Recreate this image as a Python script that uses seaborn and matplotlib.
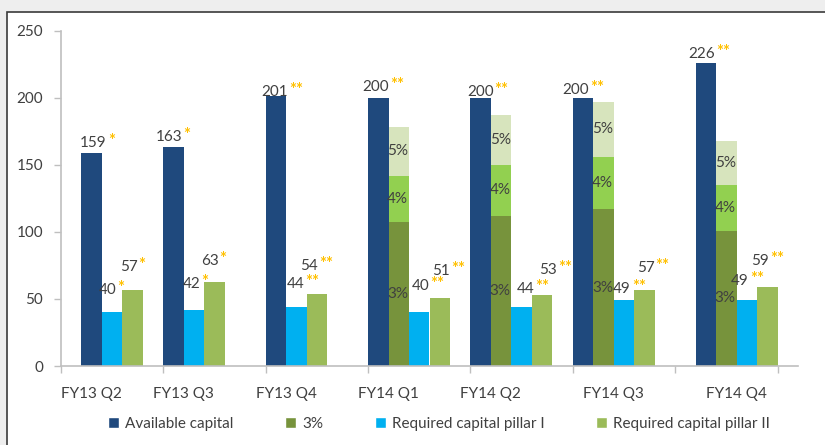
import numpy as np
import pandas as pd
import matplotlib.pyplot as plt
import seaborn as sns
from matplotlib.patches import Rectangle, Patch

# ── Data ─────────────────────────────────────────────────────────────────────
QUARTERS = ["FY13 Q2", "FY13 Q3", "FY13 Q4", "FY14 Q1", "FY14 Q2", "FY14 Q3", "FY14 Q4"]
AVAILABLE = [159, 163, 201, 200, 200, 200, 226]
PILLAR_I = [40, 42, 44, 40, 44, 49, 49]
PILLAR_II = [57, 63, 54, 51, 53, 57, 59]
STARS = ["*", "*", "**", "**", "**", "**", "**"]

STACK_QUARTERS = ["FY14 Q1", "FY14 Q2", "FY14 Q3", "FY14 Q4"]
BUF_3 = [107, 112, 117, 101]
BUF_4 = [35, 38, 39, 34]
BUF_5 = [36, 37, 41, 33]
BUF_LABELS = ["3%", "4%", "5%"]

YTICKS = [0, 50, 100, 150, 200, 250]

# ── Layout (slot units, 5 slots per quarter) ─────────────────────────────────
N_SLOTS = 36
START = [1, 0, 0, 0, 0, 0, 1]
LABEL_POS = [1.0, 5.5, 10.5, 15.5, 20.5, 26.5, 32.5]

# label offsets in pixels: (right edge of number from bar centre, centre above bar top)
AV_DX = [15, 9, 12, 11, 13, 6, 9]
AV_DY = [10, 10, 4, 11, 6, 8, 9]
P1_DX = [4, 6, 8, 10, 13, 7, 2]
P1_DY = [22, 26, 23, 26, 18, 11, 19]
P2_DX = [5, 4, 1, 10, 15, 10, 2]
P2_DY = [23, 21, 28, 27, 25, 22, 26]

C_AVAIL = "#1F497D"
C_3 = "#77933C"
C_4 = "#92D050"
C_5 = "#D7E4BD"
C_P1 = "#00B0F0"
C_P2 = "#9BBB59"
C_STAR = "#FFC000"
C_TEXT = "#404040"
C_AXIS = "#BFBFBF"

sns.set_theme(style="white")
plt.rcParams["font.family"] = ["Lato", "DejaVu Sans"]
FS = 11


def slot_of(i, j):
    return 5 * i + START[i] + j


def bars(ax, slots, values, color):
    df = pd.DataFrame({"slot": slots, "value": values})
    sns.barplot(data=df, x="slot", y="value", order=list(range(N_SLOTS)),
                color=color, saturation=1, width=1.0, errorbar=None,
                linewidth=0, ax=ax)


fig = plt.figure(figsize=(8.25, 4.45), dpi=100, facecolor="#EEEEEE")
fig.patches.append(Rectangle((7 / 825, -0.05), 1.0, 1 - 11.7 / 445 + 0.05,
                             transform=fig.transFigure, facecolor="white",
                             edgecolor="#3A3A3A", lw=1.2, zorder=-5))
ax = fig.add_axes([61 / 825, 1 - 366 / 445, (798 - 61) / 825, (366 - 30.7) / 445])
ax.set_facecolor("none")
ax.set_zorder(2)

stack_idx = [QUARTERS.index(q) for q in STACK_QUARTERS]
has_stack = [q in STACK_QUARTERS for q in QUARTERS]

avail_slots = [slot_of(i, 0) for i in range(len(QUARTERS))]
p1_slots = [slot_of(i, 2 if has_stack[i] else 1) for i in range(len(QUARTERS))]
p2_slots = [slot_of(i, 3 if has_stack[i] else 2) for i in range(len(QUARTERS))]
stack_slots = [slot_of(i, 1) for i in stack_idx]

cum3 = np.array(BUF_3)
cum4 = cum3 + np.array(BUF_4)
cum5 = cum4 + np.array(BUF_5)

bars(ax, avail_slots, AVAILABLE, C_AVAIL)
bars(ax, stack_slots, cum5, C_5)
bars(ax, stack_slots, cum4, C_4)
bars(ax, stack_slots, cum3, C_3)
bars(ax, p1_slots, PILLAR_I, C_P1)
bars(ax, p2_slots, PILLAR_II, C_P2)


def value_label(x, y, val, stars, dx, dy):
    ax.annotate(str(val), (x, y), xytext=(dx, dy), textcoords="offset pixels",
                ha="right", va="center", fontsize=FS, color=C_TEXT)
    ax.annotate(stars, (x, y), xytext=(dx + 1, dy + 2), textcoords="offset pixels",
                ha="left", va="center", fontsize=FS + 1, color=C_STAR,
                fontweight="bold")


for i in range(len(QUARTERS)):
    value_label(avail_slots[i], AVAILABLE[i], AVAILABLE[i], STARS[i], AV_DX[i], AV_DY[i])
    value_label(p1_slots[i], PILLAR_I[i], PILLAR_I[i], STARS[i], P1_DX[i], P1_DY[i])
    value_label(p2_slots[i], PILLAR_II[i], PILLAR_II[i], STARS[i], P2_DX[i], P2_DY[i])

for k, s in enumerate(stack_slots):
    lows = [0, cum3[k], cum4[k]]
    highs = [cum3[k], cum4[k], cum5[k]]
    for lab, lo, hi in zip(BUF_LABELS, lows, highs):
        ax.text(s - 0.05, (lo + hi) / 2, lab, ha="center", va="center",
                fontsize=FS, color=C_TEXT)

# ── Axes ─────────────────────────────────────────────────────────────────────
ax.set_xlim(-0.5, N_SLOTS - 0.5)
ax.set_ylim(0, 250)
ax.set_xlabel("")
ax.set_ylabel("")
ax.set_xticks([-0.5 + 5 * k for k in range(len(QUARTERS) + 1)])
ax.set_xticklabels([])
ax.set_xticks(LABEL_POS, minor=True)
ax.set_xticklabels(QUARTERS, minor=True)
ax.tick_params(axis="x", which="major", direction="out", length=5, width=1,
               color=C_AXIS, bottom=True)
ax.tick_params(axis="x", which="minor", length=0, pad=15, labelsize=FS,
               labelcolor=C_TEXT)
ax.set_yticks(YTICKS)
ax.tick_params(axis="y", direction="out", length=5, width=1, color=C_AXIS,
               left=True, pad=8, labelsize=FS, labelcolor=C_TEXT)
for side in ["top", "right"]:
    ax.spines[side].set_visible(False)
for side in ["left", "bottom"]:
    ax.spines[side].set_color(C_AXIS)
    ax.spines[side].set_linewidth(1.2)
ax.grid(False)

handles = [Patch(facecolor=C_AVAIL), Patch(facecolor=C_3),
           Patch(facecolor=C_P1), Patch(facecolor=C_P2)]
labels = ["Available capital", "3%", "Required capital pillar I", "Required capital pillar II"]
fig.legend(handles, labels, loc="center", bbox_to_anchor=(439 / 825, 1 - 424 / 445),
           ncol=4, frameon=False, fontsize=FS, handlelength=0.7, handleheight=0.7,
           handletextpad=0.4, columnspacing=3.4, labelcolor=C_TEXT)

fig.savefig("out.png", dpi=100, facecolor=fig.get_facecolor())
